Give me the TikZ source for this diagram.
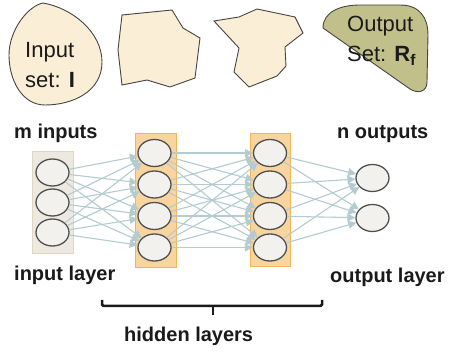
\documentclass[tikz,border=0pt]{standalone}
\usepackage{fontspec}
\setmainfont{Liberation Sans}
\usetikzlibrary{arrows.meta,shapes.geometric}

\definecolor{setfill}{HTML}{FBEED6}
\definecolor{setline}{HTML}{454545}
\definecolor{resfill}{HTML}{C2C08A}
\definecolor{infill}{HTML}{EEE9E0}
\definecolor{inline}{HTML}{E0D6C4}
\definecolor{hidfill}{HTML}{F8D49F}
\definecolor{hidline}{HTML}{F4B556}
\definecolor{unitfill}{HTML}{F2F1EE}
\definecolor{unitline}{HTML}{505050}
\definecolor{linkcol}{HTML}{B4CBD0}
\definecolor{txt}{HTML}{1A1A1A}

\begin{document}
\begin{tikzpicture}[x=1pt, y=-1pt,
            unit/.style={ellipse, draw=unitline, fill=unitfill, line width=1.3pt,
                minimum width=33pt, minimum height=27pt, inner sep=0pt},
            link/.style={draw=linkcol, line width=1.1pt, -{Triangle[length=8pt,width=8pt]}},
            tag/.style={inner sep=0pt, anchor=base west, text=txt,
                font=\bfseries\fontsize{20}{24}\selectfont},
            settext/.style={inner sep=0pt, anchor=north west, align=left, text=txt,
                font=\fontsize{22}{30}\selectfont},
            setborder/.style={draw=setline, line width=0.9pt}]

            \useasboundingbox (0,0) rectangle (451,353);

            \draw[setborder, fill=setfill] (43,3) .. controls (72,8) and (102,32) .. (102,62)
                .. controls (102,92) and (72,105) .. (45,105)
                .. controls (22,105) and (9,80) .. (9,55)
                .. controls (9,30) and (28,6) .. (43,3) -- cycle;
            \draw[setborder, fill=setfill] (122,15) -- (172,10) -- (183,28) -- (200,38) -- (195,78)
                -- (170,87) -- (147,80) -- (122,85) -- (118,50) -- cycle;
            \draw[setborder, fill=setfill] (214,21) -- (239,17) -- (257,9) -- (295,17) -- (303,33)
                -- (285,47) -- (286,66) -- (277,76) -- (249,87) -- (234,72) -- (239,48) -- cycle;
            \draw[setborder, fill=resfill] (323,28) .. controls (323,12) and (340,5) .. (360,5)
                -- (400,5) .. controls (420,5) and (428,18) .. (428,35)
                -- (427,82) .. controls (427,92) and (418,94) .. (410,89) -- cycle;

            \node[settext] (inset) at (25,42) {Input\\set: \textbf{I}};
            \node[settext] (outset) at (347,16) {Output\\Set: \textbf{R}\textsubscript{\textbf{f}}};

            \draw[draw=inline, fill=infill, line width=1pt] (32,152) rectangle (73,254);
            \draw[draw=hidline, fill=hidfill, line width=1pt] (135,134) rectangle (176,268);
            \draw[draw=hidline, fill=hidfill, line width=1pt] (250,134) rectangle (290,267);

            \node[unit] (x1) at (52.5,172.5) {};
            \node[unit] (x2) at (52.5,202.5) {};
            \node[unit] (x3) at (52.5,232.5) {};

            \node[unit] (a1) at (154.5,153) {};
            \node[unit] (a2) at (154.5,184.5) {};
            \node[unit] (a3) at (154.5,216) {};
            \node[unit] (a4) at (154.5,247.5) {};

            \node[unit] (b1) at (270,153) {};
            \node[unit] (b2) at (270,184.5) {};
            \node[unit] (b3) at (270,216) {};
            \node[unit] (b4) at (270,247.5) {};

            \node[unit] (y1) at (372.5,178) {};
            \node[unit] (y2) at (372.5,218) {};

            \foreach \i in {1,2,3}
                \foreach \j in {1,...,4}
                    \draw[link] (x\i) -- (a\j);
            \foreach \i in {1,...,4}
                \foreach \j in {1,...,4}
                    \draw[link] (a\i) -- (b\j);
            \foreach \i in {1,...,4}
                \foreach \j in {1,2}
                    \draw[link] (b\i) -- (y\j);

            \node[tag] (minputs) at (14,139) {m inputs};
            \node[tag] (inlayer) at (14,281) {input layer};
            \node[tag] (noutputs) at (337,139) {n outputs};
            \node[tag] (outlayer) at (330,283) {output layer};
            \node[tag] (hidlayers) at (124,342) {hidden layers};

            \draw[txt, line width=2.5pt, rounded corners=1.5pt] (102,300) -- (102,306) -- (322,306) -- (322,300);
            \draw[txt, line width=2.5pt] (213,306) -- (213,315);

        \end{tikzpicture}
\end{document}
